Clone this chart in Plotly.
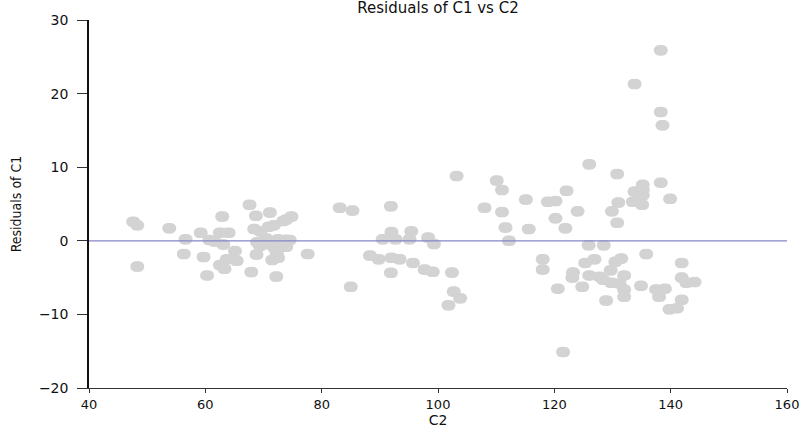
import plotly.graph_objects as go

# C2 values (x) and residuals of C1 (y)
c2 = [47.6, 48.3, 48.3, 53.8, 56.6, 56.3, 59.2, 59.7, 60.3, 60.7, 61.6, 62.9, 62.5, 64.0,
      63.1, 62.5, 63.3, 63.7, 65.4, 65.1, 67.6, 68.7, 67.9, 71.1, 68.4, 69.5, 70.9, 71.8,
      73.4, 74.8, 73.9, 68.9, 69.4, 68.8, 70.5, 71.2, 72.5, 73.9, 74.5, 72.0, 73.9, 72.3,
      71.5, 72.5, 72.2, 77.6,
      83.1, 85.3, 85.0, 88.3, 89.8, 91.9, 92.0, 90.5, 92.7, 92.0, 93.4, 91.9, 95.4, 95.1,
      95.7, 98.3, 99.3, 97.7, 99.1, 103.2, 102.4, 102.7, 103.8, 101.8,
      108.0, 110.1, 111.0, 111.0, 111.6, 112.2, 115.1, 115.6, 118.9, 120.2, 120.2, 121.9,
      122.1, 124.0, 126.0, 125.9, 128.5, 118.0, 118.0, 120.6, 121.5, 125.3, 126.9, 123.2,
      123.1, 124.8, 126.0, 127.8, 128.4, 129.7, 130.5, 131.5, 129.8, 131.2, 132.0, 132.0,
      132.0, 128.9, 130.8, 129.9, 130.8, 131.0, 133.5, 135.1, 135.2, 135.2, 133.8, 135.2,
      138.3, 139.9, 135.8, 134.9, 137.5, 139.0, 138.0, 139.8, 141.1, 141.9, 141.9, 142.7,
      144.1, 141.9, 133.8, 138.3, 138.3, 138.6]
resid = [2.6, 2.1, -3.5, 1.7, 0.2, -1.8, 1.1, -2.2, -4.7, 0.1, -0.1, 3.3, 1.1, 1.1,
         -0.5, -3.3, -3.8, -2.5, -2.7, -1.4, 4.9, 3.4, -4.25, 3.85, 1.6, 1.25, 1.9, 2.1,
         2.7, 3.3, 2.9, -0.2, -0.7, -1.85, 0.3, -0.5, 0.2, 0.15, 0.1, -1.1, -0.8, -1.8,
         -2.6, -2.3, -4.85, -1.8,
         4.5, 4.1, -6.25, -2.0, -2.5, 4.7, 1.2, 0.2, 0.2, -2.3, -2.5, -4.35, 1.3, 0.2,
         -3.0, 0.45, -0.45, -3.9, -4.2, 8.8, -4.3, -6.9, -7.8, -8.75,
         4.5, 8.2, 6.9, 3.9, 1.8, 0.0, 5.6, 1.6, 5.3, 5.4, 3.05, 1.7,
         6.8, 4.0, 10.4, -0.6, -0.6, -2.5, -3.9, -6.5, -15.1, -3.0, -2.5, -4.3,
         -5.0, -6.25, -4.7, -4.9, -5.3, -4.0, -2.85, -2.4, -5.7, -5.8, -4.7, -6.6,
         -7.6, -8.1, 9.07, 4.0, 2.45, 5.2, 5.3, 4.9, 6.2, 6.9, 6.7, 7.6,
         7.9, 5.7, -1.8, -6.1, -6.6, -6.5, -7.6, -9.3, -9.15, -3.0, -5.0, -5.7,
         -5.6, -8.0, 21.3, 25.9, 17.5, 15.7]

x_range = [40, 160]
y_range = [-20, 30]
x_ticks = [40, 60, 80, 100, 120, 140, 160]
y_ticks = [-20, -10, 0, 10, 20, 30]

title_text = "Residuals of C1 vs C2"
x_title = "C2"
y_title = "Residuals of C1"

dot_color = "#d3d3d3"
# markers in the reference are slightly wide ellipses: overlapping circles approximate them
half_w = 0.3

fig = go.Figure()
for off in (-half_w, 0.0, half_w):
    fig.add_trace(go.Scatter(
        x=[v + off for v in c2], y=resid, mode="markers",
        marker=dict(size=10.5, color=dot_color, line=dict(width=0)),
        showlegend=False, hoverinfo="skip"))

fig.add_trace(go.Scatter(
    x=x_range, y=[0, 0], mode="lines",
    line=dict(color="#8585c8", width=1.2), showlegend=False, hoverinfo="skip"))

fig.update_layout(
    width=800, height=428,
    margin=dict(l=89, r=13, t=20, b=40, autoexpand=False),
    paper_bgcolor="white", plot_bgcolor="white",
    title=dict(text=title_text, x=0.5, xanchor="center", xref="paper",
               y=1 - 2 / 428, yref="container", yanchor="top", pad=dict(t=0, b=0),
               font=dict(family="DejaVu Sans", size=15, color="#111")),
    font=dict(family="DejaVu Sans", color="#111"),
)
fig.update_xaxes(
    range=x_range, tickvals=x_ticks, ticks="outside", ticklen=4, tickwidth=1,
    tickcolor="#333", showline=True, linecolor="#333", linewidth=1,
    showgrid=False, zeroline=False, automargin=False,
    tickfont=dict(family="DejaVu Sans", size=13, color="#111"),
    title=dict(text=x_title, font=dict(family="DejaVu Sans", size=14, color="#111"), standoff=1),
)
fig.update_yaxes(
    range=y_range, tickvals=y_ticks, ticks="outside", ticklen=10, tickwidth=1,
    tickcolor="#333", showline=True, linecolor="#111", linewidth=1.5,
    showgrid=False, zeroline=False, automargin=False, ticklabelstandoff=6,
    tickfont=dict(family="DejaVu Sans", size=14, color="#111"),
    title=dict(text=y_title, font=dict(family="Liberation Sans Narrow, DejaVu Sans Condensed, Liberation Sans",
                                       size=14, color="#111"), standoff=14),
)

# remove the browser's default 8px page margin so the figure sits at the window origin
fig.write_html("out.html", config={"displayModeBar": False},
               post_script="document.body.style.margin='0';document.body.style.overflow='hidden';")
